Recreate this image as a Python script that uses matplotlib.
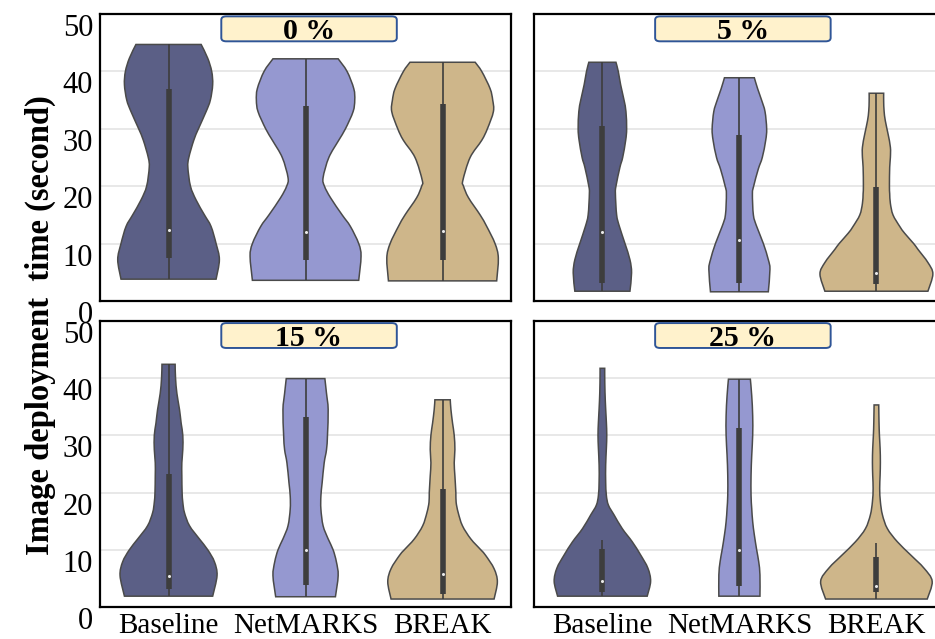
import matplotlib
matplotlib.use('Agg')
import matplotlib.pyplot as plt
import numpy as np
from matplotlib.patches import FancyBboxPatch, PathPatch
from matplotlib.path import Path

plt.rcParams['font.family'] = 'serif'
plt.rcParams['font.serif'] = ['Liberation Serif', 'DejaVu Serif']

levels = ['0 %', '5 %', '15 %', '25 %']
methods = ['Baseline', 'NetMARKS', 'BREAK']
colors = ['#5b5f86', '#9598d0', '#ceb68a']

# violin outlines: y positions (s) and half widths (category units)
y_0_base = [3.8, 7.2, 10, 13, 15, 17.6, 20, 23.3, 25, 28, 30, 33, 35, 37.7, 40, 42.3, 44.7]
w_0_base = [0.347, 0.371, 0.347, 0.310, 0.262, 0.201, 0.160, 0.141, 0.148, 0.184, 0.218, 0.274, 0.305, 0.322, 0.315, 0.286, 0.238]
y_0_net = [3.6, 7.8, 10, 13, 15, 18, 20, 21.5, 25, 28, 30, 33, 35, 37, 40, 42.2]
w_0_net = [0.388, 0.405, 0.388, 0.327, 0.267, 0.182, 0.138, 0.128, 0.170, 0.242, 0.291, 0.347, 0.359, 0.352, 0.303, 0.238]
y_0_brk = [3.5, 7.5, 10, 13, 15, 18, 20, 21, 25, 28, 30, 33, 35, 37, 40, 41.6]
w_0_brk = [0.395, 0.407, 0.383, 0.322, 0.274, 0.189, 0.153, 0.148, 0.201, 0.286, 0.327, 0.371, 0.366, 0.347, 0.286, 0.238]

y_5_base = [1.7, 4.9, 7.2, 10, 13, 15, 18.7, 20, 23.3, 25, 28, 30, 33, 35, 37.7, 40, 41.6]
w_5_base = [0.201, 0.213, 0.201, 0.165, 0.124, 0.104, 0.095, 0.099, 0.128, 0.148, 0.170, 0.177, 0.172, 0.158, 0.133, 0.116, 0.099]
y_5_net = [1.6, 5.5, 7.2, 10, 13, 15, 18.7, 20, 23, 25, 28, 30, 33, 35, 37, 38.9]
w_5_net = [0.211, 0.223, 0.211, 0.175, 0.126, 0.102, 0.095, 0.104, 0.138, 0.167, 0.192, 0.199, 0.187, 0.162, 0.133, 0.109]
y_5_brk = [1.7, 4.7, 6.7, 9, 10, 11.8, 13, 15, 17, 18.7, 20, 23.3, 25, 26.8, 29.1, 31.4, 33.1, 34.8, 36.2]
w_5_brk = [0.376, 0.412, 0.376, 0.303, 0.272, 0.206, 0.170, 0.121, 0.102, 0.097, 0.095, 0.097, 0.102, 0.102, 0.085, 0.065, 0.056, 0.053, 0.053]

y_15_base = [1.9, 5.5, 7.9, 10, 11.9, 14.2, 16.5, 18.3, 20, 22.9, 25.2, 27.5, 30, 32.1, 34.5, 37.3, 40, 42.4]
w_15_base = [0.322, 0.354, 0.335, 0.286, 0.225, 0.153, 0.116, 0.104, 0.099, 0.097, 0.097, 0.104, 0.104, 0.092, 0.080, 0.061, 0.051, 0.048]
y_15_net = [1.8, 5.5, 7.9, 10, 11.9, 14.2, 17.1, 19.4, 21.7, 25.2, 27.5, 30, 34.5, 37.3, 39.9]
w_15_net = [0.218, 0.238, 0.225, 0.201, 0.165, 0.128, 0.112, 0.112, 0.121, 0.136, 0.153, 0.160, 0.165, 0.153, 0.141]
y_15_brk = [1.4, 4.4, 6.7, 9, 10, 11.9, 14.2, 16.5, 18.3, 20, 22.9, 25.2, 27.5, 30, 32.1, 34.5, 36.2]
w_15_brk = [0.376, 0.400, 0.376, 0.315, 0.279, 0.206, 0.145, 0.114, 0.099, 0.097, 0.090, 0.085, 0.090, 0.085, 0.073, 0.061, 0.056]

y_25_base = [1.9, 4.5, 6.8, 9.1, 11.4, 13.7, 16.1, 17.8, 19.5, 21.9, 24.8, 27.7, 30, 32.3, 34.6, 37.5, 40.4, 41.7]
w_25_base = [0.327, 0.352, 0.332, 0.279, 0.218, 0.145, 0.085, 0.044, 0.029, 0.024, 0.024, 0.029, 0.032, 0.029, 0.024, 0.019, 0.017, 0.017]
y_25_net = [1.9, 5.6, 7.9, 10, 12.6, 14.9, 17.2, 19.5, 23, 26.5, 30, 33.4, 36.9, 39.8]
w_25_net = [0.150, 0.150, 0.141, 0.126, 0.109, 0.097, 0.090, 0.085, 0.085, 0.090, 0.097, 0.097, 0.090, 0.080]
y_25_brk = [1.4, 4.5, 6.8, 9.1, 11.4, 13.7, 16.1, 18.4, 20.7, 23, 25.3, 27.7, 30, 32.3, 35.3]
w_25_brk = [0.371, 0.407, 0.347, 0.250, 0.153, 0.080, 0.044, 0.029, 0.024, 0.027, 0.029, 0.027, 0.022, 0.019, 0.017]

# inner box stats per level: [Baseline, NetMARKS, BREAK]
q1 = [[7.5, 7.2, 7.1], [3.2, 3.2, 2.9], [3.2, 3.8, 2.2], [2.7, 3.6, 2.6]]
med = [[12.4, 12.0, 12.2], [12.0, 10.7, 4.8], [5.4, 10.0, 5.7], [4.5, 9.9, 3.7]]
q3 = [[37.0, 34.0, 34.3], [30.5, 28.9, 19.9], [23.2, 33.2, 20.6], [10.1, 31.2, 8.8]]
whi_lo = [[3.8, 3.6, 3.5], [1.7, 1.6, 1.7], [1.9, 1.8, 1.4], [1.9, 1.9, 1.4]]
whi_hi = [[44.7, 42.2, 41.6], [41.6, 38.9, 36.2], [42.4, 39.9, 36.2], [11.7, 39.8, 11.1]]

outlines = [
    [(y_0_base, w_0_base), (y_0_net, w_0_net), (y_0_brk, w_0_brk)],
    [(y_5_base, w_5_base), (y_5_net, w_5_net), (y_5_brk, w_5_brk)],
    [(y_15_base, w_15_base), (y_15_net, w_15_net), (y_15_brk, w_15_brk)],
    [(y_25_base, w_25_base), (y_25_net, w_25_net), (y_25_brk, w_25_brk)],
]


def smooth_through(pts):
    # cubic bezier segments passing through every point (catmull-rom)
    verts, codes = [], []
    n = len(pts)
    for k in range(n - 1):
        p0 = pts[max(k - 1, 0)]
        p1 = pts[k]
        p2 = pts[k + 1]
        p3 = pts[min(k + 2, n - 1)]
        verts += [p1 + (p2 - p0) / 6, p2 - (p3 - p1) / 6, p2]
        codes += [Path.CURVE4] * 3
    return verts, codes


def violin_path(x0, ys, ws):
    ys = np.array(ys, float)
    ws = np.array(ws, float)
    right = np.column_stack([x0 + ws, ys])
    left = np.column_stack([x0 - ws, ys])[::-1]
    verts, codes = [right[0]], [Path.MOVETO]
    v, c = smooth_through(right)
    verts += v
    codes += c
    verts.append(left[0])
    codes.append(Path.LINETO)
    v, c = smooth_through(left)
    verts += v
    codes += c
    verts.append(right[0])
    codes.append(Path.CLOSEPOLY)
    return Path(verts, codes)


fig = plt.figure(figsize=(9.35, 6.39), dpi=100)
positions = [
    [0.107, 0.529, 0.4396, 0.449],
    [0.571, 0.529, 0.4396, 0.449],
    [0.107, 0.050, 0.4396, 0.448],
    [0.571, 0.050, 0.4396, 0.448],
]

for i, level in enumerate(levels):
    ax = fig.add_axes(positions[i])
    for j, (ys, ws) in enumerate(outlines[i]):
        ax.add_patch(PathPatch(violin_path(j, ys, ws), facecolor=colors[j],
                               edgecolor='#4a4a4a', linewidth=1.1, zorder=2))
        ax.plot([j, j], [whi_lo[i][j], whi_hi[i][j]], color='#3d3d3d',
                lw=1.2, zorder=3, solid_capstyle='butt')
        ax.plot([j, j], [q1[i][j], q3[i][j]], color='#3d3d3d',
                lw=4, zorder=3, solid_capstyle='butt')
        ax.plot(j, med[i][j], 'o', color='#e8e8e8', ms=1.2, zorder=4)

    ax.set_xlim(-0.5, 2.5)
    ax.set_ylim(0, 50)
    ax.set_yticks([0, 10, 20, 30, 40, 50])
    ax.set_xticks([0, 1, 2])
    ax.grid(axis='y', color='#e4e4e4', lw=1.2, zorder=0)
    ax.set_axisbelow(True)
    ax.tick_params(axis='y', length=0, labelsize=22, pad=5)
    ax.tick_params(axis='x', length=0, labelsize=21, pad=4)
    for sp in ax.spines.values():
        sp.set_linewidth(1.6)
        sp.set_color('black')

    if i in (2, 3):
        ax.set_xticklabels(methods)
    else:
        ax.set_xticklabels([])
    if i in (0, 2):
        plt.setp(ax.get_yticklabels(), va='top')
    else:
        ax.set_yticklabels([])

    # level tag at the top of each panel
    tag = FancyBboxPatch((0.295, 0.905), 0.427, 0.087,
                         boxstyle='round,pad=0,rounding_size=0.012',
                         transform=ax.transAxes, facecolor='#fff2cc',
                         edgecolor='#2f5597', linewidth=1.4, zorder=5,
                         clip_on=False)
    ax.add_patch(tag)
    ax.text(0.508, 0.912, level, transform=ax.transAxes, ha='center',
            va='baseline', fontsize=21.5, fontweight='bold', zorder=6)

fig.text(0.043, 0.491, 'Image deployment  time (second)', rotation=90,
         ha='center', va='center', fontsize=23.5, fontweight='bold')

fig.savefig('out.png', dpi=100)
